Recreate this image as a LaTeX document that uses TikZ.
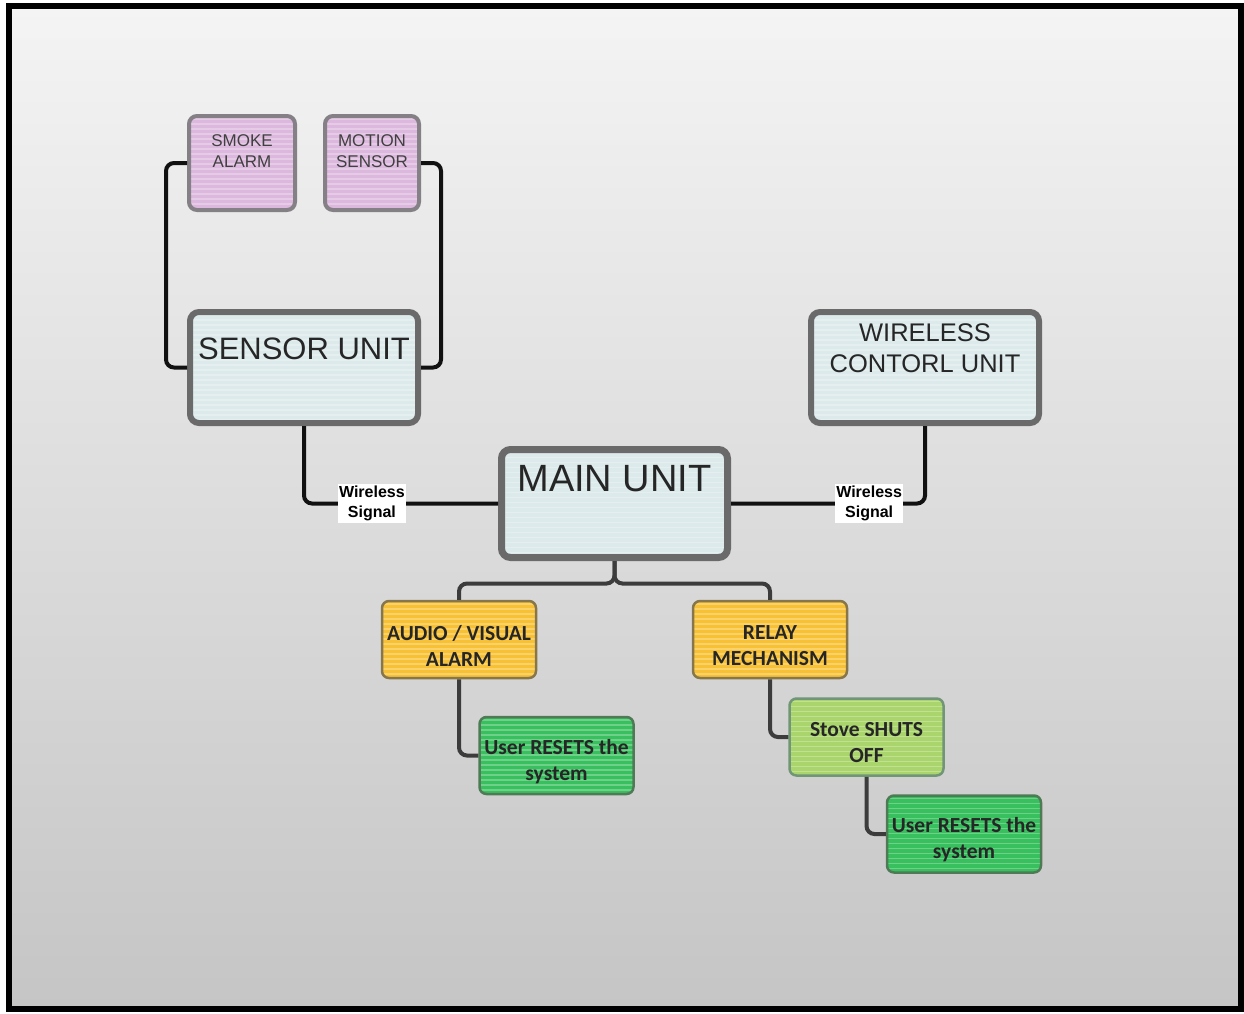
\documentclass[tikz,border=0pt]{standalone}
\usepackage{xcolor}
\usepackage{fontspec}
\setmainfont{Liberation Sans}
\newfontfamily\boxfont{Carlito}
\usepackage{tikz}
\usetikzlibrary{positioning}

\definecolor{bgtop}{HTML}{F4F4F4}
\definecolor{bgbottom}{HTML}{C5C5C5}
\definecolor{unitfill}{HTML}{DCEAEB}
\definecolor{unitedge}{HTML}{6A6A6A}
\definecolor{pinkfill}{HTML}{DDB8DE}
\definecolor{pinkedge}{HTML}{858085}
\definecolor{alarmyellow}{HTML}{F8C134}
\definecolor{yellowedge}{HTML}{86764A}
\definecolor{resetgreen}{HTML}{38BF5E}
\definecolor{greenedge}{HTML}{4E7A55}
\definecolor{stovegreen}{HTML}{A9D56C}
\definecolor{wirecol}{HTML}{111111}
\definecolor{treecol}{HTML}{3C3C3C}

\tikzset{
  stripes/.style={path picture={
    \foreach \k in {3,8,...,130}
      \draw[white, opacity=0.28, line width=1.2pt]
        ([yshift=-\k pt]path picture bounding box.north west) --
        ([yshift=-\k pt]path picture bounding box.north east);}},
  unit/.style={draw=unitedge, line width=6pt, fill=unitfill, rounded corners=9pt, inner sep=0pt, stripes},
  unittext/.style={font=\fontsize{31}{36}\selectfont, text=black!85, inner sep=0pt, align=center},
  sensorbox/.style={draw=pinkedge, line width=4pt, fill=pinkfill, rounded corners=8pt,
    minimum height=94pt, inner sep=0pt, stripes},
  sensortext/.style={font=\fontsize{17}{21}\selectfont, text=black!75, inner sep=0pt, align=center},
  stagebox/.style={line width=2.5pt, rounded corners=7pt, minimum width=154pt, minimum height=77pt,
    inner sep=0pt, stripes},
  stagetext/.style={inner sep=0pt, align=center, yshift=-6pt,
    font=\boxfont\bfseries\fontsize{21.5}{26}\selectfont, text=black!85},
  alarmbox/.style={stagebox, draw=yellowedge, fill=alarmyellow},
  resetbox/.style={stagebox, draw=greenedge, fill=resetgreen},
  stovebox/.style={stagebox, draw=greenedge!80, fill=stovegreen},
  wire/.style={wirecol, line width=4pt, rounded corners=8pt},
  treewire/.style={treecol, line width=4pt, rounded corners=8pt},
  sig/.style={fill=white, sharp corners, font=\bfseries\fontsize{16}{20}\selectfont,
    inner xsep=1pt, inner ysep=2pt, align=center, text=black}
}

\begin{document}
\begin{tikzpicture}[x=1pt, y=-1pt]

\useasboundingbox (0,0) rectangle (1244,1013);

% =========================
% BACKGROUND AND FRAME
% =========================
\shade[top color=bgtop, bottom color=bgbottom] (9,6) rectangle (1241,1009);
\draw[black, line width=6pt] (9,6) rectangle (1241,1009);

% =========================
% SENSORS
% =========================
\node[sensorbox, minimum width=106pt,
  label={[sensortext, anchor=north, yshift=-20pt]north:SMOKE\\ALARM}] (smoke) at (242,163) {};
\node[sensorbox, minimum width=94pt,
  label={[sensortext, anchor=north, yshift=-20pt]north:MOTION\\SENSOR}] (motion) at (372,163) {};

% =========================
% UNITS
% =========================
\node[unit, minimum width=228pt, minimum height=111pt,
  label={[unittext, anchor=north, yshift=-29pt]north:SENSOR UNIT}] (sensor) at (304,367.5) {};
\node[unit, minimum width=228pt, minimum height=111pt,
  label={[unittext, font=\fontsize{25.5}{31}\selectfont, anchor=north, yshift=-14.5pt]north:WIRELESS\\CONTORL UNIT}] (wcu) at (925,367.5) {};
\node[unit, line width=7pt, minimum width=226pt, minimum height=108pt,
  label={[unittext, font=\fontsize{38}{44}\selectfont, anchor=north, yshift=-19.5pt]north:MAIN UNIT}] (main) at (614.5,503.5) {};

% =========================
% OUTPUT STAGES
% =========================
\node[alarmbox, label={[stagetext]center:AUDIO / VISUAL\\ALARM}] (audio) at (459,639.5) {};
\node[alarmbox, label={[stagetext]center:RELAY\\MECHANISM}] (relay) at (770,639.5) {};
\node[resetbox, label={[stagetext]center:User RESETS the\\system}] (resetl) at (556.5,755.5) {};
\node[stovebox, label={[stagetext]center:Stove SHUTS\\OFF}] (stove) at (866.5,737) {};
\node[resetbox, label={[stagetext]center:User RESETS the\\system}] (resetr) at (964,834) {};

% =========================
% CONNECTIONS
% =========================
\draw[wire] (smoke.west) -- ++(-21,0) |- (sensor.west);
\draw[wire] (motion.east) -- ++(20,0) |- (sensor.east);

\draw[wire] (sensor.south) |- (main.west)
  node[sig, pos=0.675] (sigl) {Wireless\\Signal};
\draw[wire] (main.east) -| (wcu.south)
  node[sig, pos=0.356] (sigr) {Wireless\\Signal};

\draw[treewire] (main.south) -- ++(0,22.5) -| (audio.north);
\draw[treewire] (main.south) -- ++(0,22.5) -| (relay.north);
\draw[treewire] (audio.south) |- (resetl.west);
\draw[treewire] (relay.south) |- (stove.west);
\draw[treewire] (stove.south) |- (resetr.west);

\end{tikzpicture}
\end{document}
